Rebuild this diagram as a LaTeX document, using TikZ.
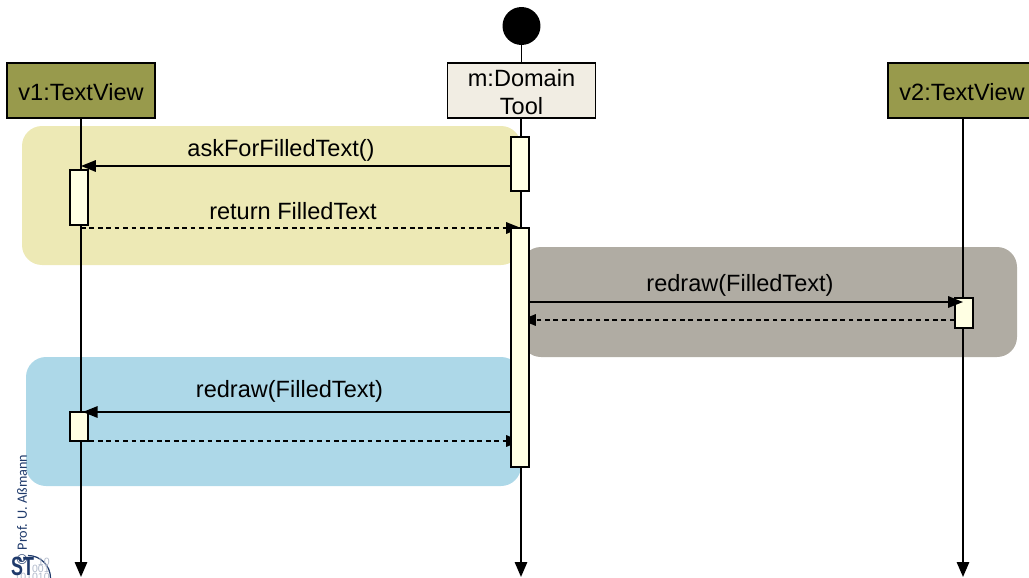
\documentclass[tikz,border=0pt]{standalone}
\usepackage{fontspec}
\setmainfont{Liberation Sans}
\newfontfamily\copyfont{Carlito}
\usetikzlibrary{arrows.meta,calc}

\definecolor{olivebox}{HTML}{989A4C}
\definecolor{toolbox}{HTML}{F1EDE3}
\definecolor{activation}{HTML}{FFFFE3}
\definecolor{yellowbg}{HTML}{EDE9B5}
\definecolor{graybg}{HTML}{B0ACA3}
\definecolor{bluebg}{HTML}{ADD8E8}
\definecolor{stblue}{HTML}{1F3A6B}

\begin{document}
\begin{tikzpicture}[x=0.02cm,y=-0.02cm,
    font=\fontsize{13.4}{15.9}\selectfont,
    objbox/.style={draw,line width=1.1pt,minimum width=2.96cm,minimum height=1.1cm,inner sep=0pt,align=center},
    actbox/.style={draw,line width=1.1pt,fill=activation,minimum width=0.36cm,inner sep=0pt},
    zone/.style={rounded corners=0.4cm,draw=none},
    lifeline/.style={line width=1.1pt,-{Triangle[length=8.5pt,width=7pt]}},
    call/.style={line width=1.1pt,-{Triangle[length=8.5pt,width=6.5pt]}},
    back/.style={line width=1.1pt,dash pattern=on 2.7pt off 2.1pt,-{Triangle[length=8.5pt,width=6.5pt]}}]

    \useasboundingbox (0,0) rectangle (1029,578);

    \fill[zone,yellowbg] (22,126) rectangle (521,265);
    \fill[zone,graybg] (521,247) rectangle (1017,357);
    \fill[zone,bluebg] (26,357) rectangle (521,486);

    \node[objbox,fill=olivebox] at (81,90.5) (v1) {};
    \node[objbox,fill=toolbox] at (521.5,90.5) (m) {};
    \node[objbox,fill=olivebox] at (962,90.5) (v2) {};
    \node[circle,fill=black,minimum size=0.76cm,inner sep=0pt] at (521.5,26) (start) {};

    \node at (81,92) (v1l) {v1:TextView};
    \node[align=center] at (521.5,92) (ml) {m:Domain\\Tool};
    \node at (962,92) (v2l) {v2:TextView};

    \coordinate (v1end) at (81,577);
    \coordinate (mend) at (521,577);
    \coordinate (v2end) at (963,577);

    \draw[line width=1.1pt] (start) -- (m);
    \draw[lifeline] (v1) -- (v1end);
    \draw[lifeline] (m.south -| mend) -- (mend);
    \draw[lifeline] (v2.south -| v2end) -- (v2end);

    % messages
    \coordinate (ask) at (0,166);
    \coordinate (ret) at (0,228);
    \coordinate (red2) at (0,302);
    \coordinate (ret2) at (0,320);
    \coordinate (red1) at (0,412);
    \coordinate (ret1) at (0,441);

    % dashed ones run behind the bars
    \draw[back] (v1 |- ret) -- (mend |- ret);
    \draw[back] (v2end |- ret2) -- (mend |- ret2);
    \draw[back] (v1 |- ret1) -- (mend |- ret1);

    % activation bars
    \node[actbox,minimum height=1.08cm] at (520,164) (am1) {};
    \node[actbox,minimum height=4.78cm] at (520,347.5) (am2) {};
    \node[actbox,minimum height=1.1cm] at (79,197.5) (av1a) {};
    \node[actbox,minimum height=0.58cm] at (79,426.5) (av1b) {};
    \node[actbox,minimum height=0.6cm] at (964,313) (av2) {};

    \draw[call] (am1.west |- ask) -- (v1 |- ask);
    \draw[call] (am2.east |- red2) -- (v2end |- red2);
    \draw[call,shorten >=1pt] (am2.west |- red1) -- (v1 |- red1);

    \node at (281,150) (askl) {askForFilledText()};
    \node at (293,211.5) (retl) {return FilledText};
    \node at (740,285.5) (red2l) {redraw(FilledText)};
    \node at (289.5,391.5) (red1l) {redraw(FilledText)};

    % copyright and logo
    \node[rotate=90,text=stblue,font=\fontsize{8.1}{9}\selectfont\copyfont,inner sep=0pt] at (22,510) (copy) {© Prof. U. Aßmann};
    \begin{scope}
    \clip (0,540) rectangle (1029,578);
    \draw[stblue,line width=0.7pt] (28,555.5) arc (-90:0:22.5);
    \node[text=stblue!35,font=\fontsize{6}{4.3}\selectfont,align=right,inner sep=0pt,anchor=south east] at (50,581) (bits) {10\\001\\101010};
    \node[text=stblue,font=\fontsize{15}{15}\selectfont\bfseries,inner sep=0pt,xscale=0.68,transform shape] at (22.5,566) (logo) {ST};
    \end{scope}

\end{tikzpicture}
\end{document}
